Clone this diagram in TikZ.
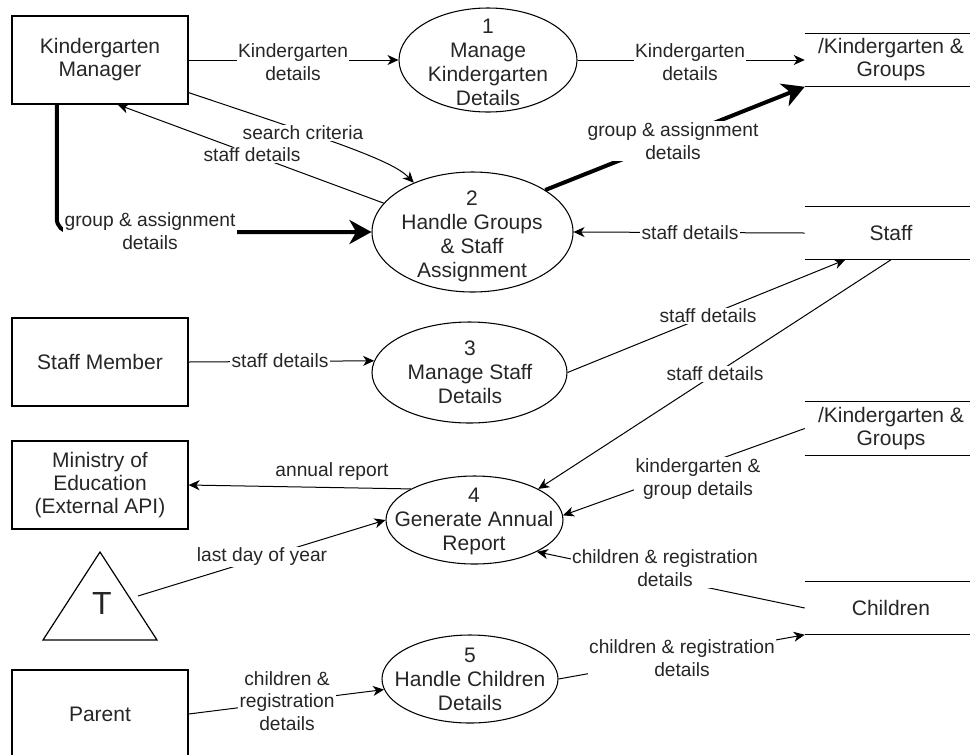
\documentclass[tikz,border=0pt]{standalone}
\usepackage{fontspec}
\setmainfont{Liberation Sans}
\usetikzlibrary{arrows.meta,calc,shapes.geometric}
\begin{document}
\begin{tikzpicture}[x=0.75pt,y=-0.75pt,
  every node/.style={text=black!85},
  ent/.style={draw, line width=0.9pt, minimum width=132pt, minimum height=66pt, inner sep=0pt, align=center, font=\fontsize{15.75}{17.25}\selectfont},
  proc/.style={draw, ellipse, line width=0.8pt, inner sep=0pt},
  ptext/.style={align=center, inner sep=0pt, font=\fontsize{15.75}{18}\selectfont},
  store/.style={minimum width=129pt, minimum height=39.75pt, inner sep=0pt, align=center, font=\fontsize{15.75}{17.25}\selectfont},
  storeline/.style={line width=0.9pt},
  lbl/.style={fill=white, inner sep=1pt, align=center, font=\fontsize{14.4}{17}\selectfont},
  flow/.style={line width=0.75pt, -{Stealth[length=8.25pt,width=7.5pt,inset=2.5pt]}},
  bigflow/.style={line width=3pt, -{Stealth[length=16.5pt,width=18pt,inset=5pt]}},
]
\useasboundingbox (0,0) rectangle (970,754);
\clip (0,0) rectangle (970,754);

% external entities
\node[ent] (km) at (100,60) {Kindergarten\\Manager};
\node[ent] (sm) at (100,362) {Staff Member};
\node[ent] (moe) at (100,485) {Ministry of\\Education\\(External API)};
\node[ent] (par) at (100,714) {Parent};

% timer triangle
\draw[line width=0.9pt] (100,552) -- (157,640) -- (43,640) -- cycle;
\node[font=\fontsize{24}{24}\selectfont, inner sep=0pt] (tt) at (102,603) {T};
\coordinate (tr) at (138,596);

% processes
\node[proc, minimum width=133.5pt, minimum height=78pt] (p1) at (488,60) {};
\node[ptext] (t1) at (488,62) {1\\Manage\\Kindergarten\\Details};
\node[proc, minimum width=150.75pt, minimum height=90pt] (p2) at (472.5,232) {};
\node[ptext] (t2) at (472,236) {2\\Handle Groups\\\& Staff\\Assignment};
\node[proc, minimum width=146.25pt, minimum height=75.75pt] (p3) at (469.5,372.5) {};
\node[ptext] (t3) at (470,372) {3\\Manage Staff\\Details};
\node[proc, minimum width=132.75pt, minimum height=66pt] (p4) at (474.5,520) {};
\node[ptext] (t4) at (474,521) {4\\Generate Annual\\Report};
\node[proc, minimum width=132pt, minimum height=66pt] (p5) at (470,679) {};
\node[ptext] (t5) at (470,679) {5\\Handle Children\\Details};

% data stores
\node[store] (s1) at (891,60) {/Kindergarten \&\\Groups};
\node[store] (s2) at (891,233) {Staff};
\node[store] (s3) at (891,428.5) {/Kindergarten \&\\Groups};
\node[store] (s4) at (891,608) {Children};
\foreach \s in {s1,s2,s3,s4}
  \draw[storeline] (\s.north west) -- (\s.north east) (\s.south west) -- (\s.south east);

% flows
\draw[flow] (km.east) -- (p1.west);
\draw[flow] (p1.east) -- (s1.west);
\coordinate (kmb) at ($(km.south west)!0.256!(km.south east)$);
\draw[bigflow, rounded corners=10pt] (kmb) |- (p2.west);
\draw[flow] ($(km.south east)+(0,-12)$) .. controls (330,140) and (392,160) .. (p2.140);
\draw[flow] (p2.162) -- ($(km.south west)!0.6!(km.south east)$);
\draw[bigflow] (p2.30) -- (s1.south west);
\draw[flow] (s2.west) -- (p2.east);
\draw[flow] (sm.east) -- (p3.173);
\draw[flow] (p3.east) -- ($(s2.south west)!0.235!(s2.south east)$);
\draw[flow] (s2.south) -- (p4.26);
\draw[flow] (s3.west) -- (p4.3);
\draw[flow] (s4.west) -- (p4.333);
\draw[flow] (p4.154) -- (moe.east);
\draw[flow] (tr) -- (p4.west);
\draw[flow] (par.east) -- (p5.187);
\draw[flow] (p5.east) -- (s4.south west);

% labels
\node[lbl] (l1) at (293,62) {Kindergarten\\details};
\node[lbl] (l2) at (690,62) {Kindergarten\\details};
\node[lbl] (l3) at (303,133) {search criteria};
\node[lbl] (l4) at (252,155) {staff details};
\node[lbl] (l5) at (150,231) {group \& assignment\\details};
\node[lbl] (l6) at (673,141) {group \& assignment\\details};
\node[lbl] (l7) at (690,233) {staff details};
\node[lbl] (l8) at (280,361) {staff details};
\node[lbl] (l9) at (708,316) {staff details};
\node[lbl] (l10) at (715,374) {staff details};
\node[lbl] (l11) at (698,479) {kindergarten \&\\group details};
\node[lbl] (l12) at (332,472) {annual report};
\node[lbl] (l13) at (262,557) {last day of year};
\node[lbl] (l14) at (665,568) {children \& registration\\details};
\node[lbl] (l15) at (287,701) {children \&\\registration\\details};
\node[lbl] (l16) at (682,658) {children \& registration\\details};
\end{tikzpicture}
\end{document}
